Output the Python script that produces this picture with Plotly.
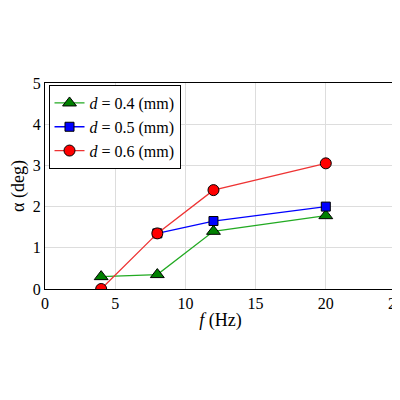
import plotly.graph_objects as go

x_g = [4, 8, 12, 20]; y_g = [0.3, 0.35, 1.4, 1.78]
x_b = [8, 12, 20]; y_b = [1.35, 1.65, 2.0]
x_r = [4, 8, 12, 20]; y_r = [0.0, 1.35, 2.4, 3.05]
names = ["<i>d</i> = 0.4 (mm)", "<i>d</i> = 0.5 (mm)", "<i>d</i> = 0.6 (mm)"]

fig = go.Figure()
fig.add_trace(go.Scatter(x=x_g, y=y_g, name=names[0], mode="lines+markers",
    line=dict(color="#22aa22", width=1.3),
    marker=dict(symbol="triangle-up", size=12, color="green", line=dict(color="black", width=1))))
fig.add_trace(go.Scatter(x=x_b, y=y_b, name=names[1], mode="lines+markers",
    line=dict(color="blue", width=1.3),
    marker=dict(symbol="square", size=9, color="blue", line=dict(color="black", width=1))))
fig.add_trace(go.Scatter(x=x_r, y=y_r, name=names[2], mode="lines+markers",
    line=dict(color="#ee3333", width=1.3),
    marker=dict(symbol="circle", size=11, color="red", line=dict(color="black", width=1))))

ax = dict(showline=True, mirror=True, linecolor="black", linewidth=1, gridcolor="#dddddd",
          ticks="", zeroline=False, automargin=False, tickfont=dict(size=16, color="black"))
fig.update_layout(
    width=400, height=400, paper_bgcolor="white", plot_bgcolor="white",
    margin=dict(l=37, r=12, t=75, b=119),
    font=dict(family="Liberation Serif, Times New Roman, serif", color="black"),
    xaxis=dict(range=[0, 25], dtick=5, title=dict(text="<i>f</i> (Hz)", font=dict(size=18), standoff=2), **ax),
    yaxis=dict(range=[0, 5], dtick=1, title=dict(text="α (deg)", font=dict(size=18), standoff=6), **ax),
    legend=dict(x=0.01, y=0.99, xanchor="left", yanchor="top", bgcolor="white",
                bordercolor="black", borderwidth=1, font=dict(size=16), tracegroupgap=0,
                itemwidth=30),
    showlegend=True,
)
fig.write_html("out.html")
